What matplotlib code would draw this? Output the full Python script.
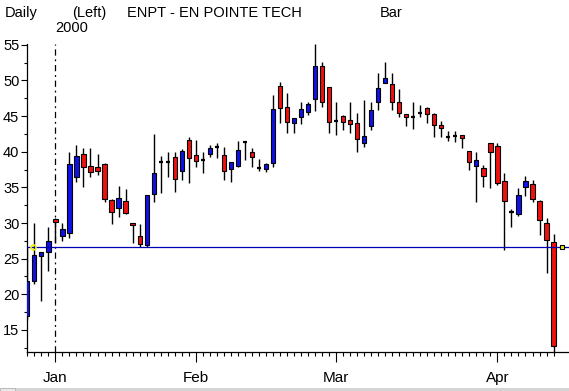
import matplotlib
matplotlib.use("Agg")
import matplotlib.pyplot as plt
import numpy as np
import pandas as pd
from matplotlib.patches import Rectangle

# trading days shown (Dec 28 1999 .. Apr 13 2000, MLK and Presidents Day closed)
dates = pd.bdate_range("1999-12-28", "2000-04-13")
dates = dates.drop(pd.to_datetime(["2000-01-17", "2000-02-21"]))

opens = [17.0, 21.8, 25.4, 26.0, 30.6, 28.2, 28.55, 36.5, 39.65, 38.0,
         37.9, 38.25, 33.25, 32.1, 33.1, 30.0, 28.2, 26.85, 34.05, 38.5,
         38.55, 39.25, 37.35, 41.65, 39.55, 38.85, 39.65, 40.65, 39.55, 37.55,
         38.05, 41.35, 39.95, 37.7, 37.55, 38.4, 49.25, 46.25, 44.0, 44.85,
         45.55, 47.4, 52.05, 49.05, 44.35, 45.05, 44.45, 44.0, 41.2, 43.55,
         47.05, 49.7, 49.5, 46.95, 45.25, 44.85, 45.5, 46.1, 45.25, 43.75,
         42.05, 42.2, 42.35, 40.1, 38.05, 37.7, 41.2, 40.8, 35.95, 31.6,
         31.25, 35.0, 35.5, 33.15, 30.0, 27.3]
highs = [26.5, 30.0, 26.0, 29.5, 30.7, 30.0, 39.9, 41.0, 40.5, 40.5,
         39.7, 38.4, 33.3, 35.2, 34.75, 30.0, 29.85, 33.95, 42.5, 39.4,
         39.9, 40.0, 40.4, 42.1, 41.7, 39.9, 41.0, 41.2, 40.65, 38.6,
         41.5, 41.5, 40.5, 38.95, 38.45, 48.0, 49.85, 48.2, 44.75, 47.05,
         47.05, 55.1, 52.65, 49.1, 47.05, 45.1, 47.05, 45.5, 47.3, 47.05,
         51.1, 52.65, 51.1, 48.8, 45.3, 46.95, 46.55, 46.3, 45.5, 44.35,
         42.95, 42.95, 42.4, 40.15, 39.95, 38.15, 41.25, 41.2, 37.0, 32.0,
         34.9, 36.6, 36.05, 33.2, 30.7, 28.45]
lows = [16.4, 21.5, 19.1, 23.2, 27.2, 27.5, 27.9, 35.7, 35.1, 36.4,
        36.75, 32.9, 29.85, 30.9, 31.3, 27.2, 26.7, 26.7, 32.9, 34.2,
        36.5, 34.4, 36.05, 35.6, 37.9, 37.0, 39.2, 39.1, 36.05, 35.8,
        37.9, 38.85, 37.9, 37.35, 37.2, 37.8, 44.1, 42.7, 42.6, 43.9,
        45.2, 45.65, 46.25, 42.6, 42.4, 43.05, 42.6, 39.9, 40.7, 43.05,
        45.9, 49.65, 45.9, 44.85, 43.55, 43.15, 44.85, 44.0, 42.05, 42.05,
        41.45, 41.4, 40.5, 37.45, 32.9, 35.0, 34.9, 35.35, 26.2, 29.4,
        31.0, 33.85, 32.9, 28.35, 22.95, 11.95]
closes = [21.8, 25.5, 25.9, 27.5, 30.1, 29.2, 38.25, 39.4, 37.8, 37.1,
          37.35, 33.35, 31.5, 33.5, 31.4, 29.7, 27.1, 33.9, 37.0, 38.5,
          38.55, 36.15, 40.15, 39.1, 38.75, 38.85, 40.5, 40.65, 37.35, 38.55,
          40.25, 41.35, 39.3, 37.7, 38.25, 46.0, 46.1, 44.15, 44.7, 46.0,
          46.65, 52.05, 47.05, 44.15, 44.35, 44.15, 43.85, 41.75, 42.15, 45.9,
          48.9, 50.3, 47.05, 45.4, 44.85, 44.85, 45.5, 45.35, 43.7, 43.4,
          42.05, 42.2, 41.9, 38.6, 38.85, 36.65, 40.0, 35.6, 33.1, 31.6,
          33.9, 35.95, 33.35, 30.4, 27.6, 12.8]
ref_level = 26.65

UP = "#1010e8"
DOWN = "#f01010"
FONT = "Liberation Sans"

fig = plt.figure(figsize=(5.69, 3.91), dpi=100)
ax = fig.add_axes([27 / 569, 39 / 391, 542 / 569, 307.5 / 391])

x = np.arange(len(dates))
o = np.array(opens)
c = np.array(closes)
colors = [UP if cc > oo else (DOWN if cc < oo else "black") for oo, cc in zip(o, c)]
lws = [0.8 if cc != oo else 1.6 for oo, cc in zip(o, c)]

ax.vlines(x, lows, highs, color="black", lw=1.0, zorder=2)
ax.bar(x, np.abs(c - o), bottom=np.minimum(o, c), width=0.6,
       color=colors, edgecolor="black", linewidth=lws, zorder=3)

ax.axhline(ref_level, color="#0000b4", lw=0.9, zorder=4)
ax.plot([0.85], [ref_level], marker="o", ms=3.5, mfc="none", mec="#f0f000", mew=1.2, zorder=5)
ax.plot([len(dates) + 0.2], [ref_level], marker="s", ms=3.5, mfc="#f0f000",
        mec="black", mew=0.8, zorder=5, clip_on=False)

# month ticks at first trading day of each month
month_first = [i for i in range(1, len(dates)) if dates[i].month != dates[i - 1].month]
month_names = [dates[i].strftime("%b") for i in month_first]
ax.axvline(month_first[0], color="black", lw=0.9, dashes=(5, 3, 1.5, 3), zorder=1)

ax.set_xlim(-0.05, len(dates) + 1.2)
ax.set_ylim(11.9, 55.05)
ax.set_xticks(month_first)
ax.set_xticklabels(month_names, fontsize=11, family=FONT)
ax.set_xticks(x, minor=True)
ax.set_yticks([15, 20, 25, 30, 35, 40, 45, 50, 55])
ax.set_yticks(np.arange(12.5, 55, 2.5), minor=True)
for t in ax.get_yticklabels():
    t.set_fontsize(10.5)
    t.set_family(FONT)
ax.tick_params(axis="x", which="major", length=7.5, width=0.8, pad=6)
ax.tick_params(axis="x", which="minor", length=3.2, width=0.8)
ax.tick_params(axis="y", which="major", length=4, width=0.8, pad=1.5)
ax.tick_params(axis="y", which="minor", length=2, width=0.8)
for side in ["top", "right"]:
    ax.spines[side].set_visible(False)
for side in ["left", "bottom"]:
    ax.spines[side].set_linewidth(0.9)

# header texts
hdr = dict(fontsize=10.5, family=FONT, va="baseline")
fig.text(5 / 569, 1 - 17 / 391, "Daily", **hdr)
fig.text(72 / 569, 1 - 17 / 391, "(Left)", **hdr)
fig.text(127 / 569, 1 - 17 / 391, "ENPT - EN POINTE TECH", **hdr)
fig.text(380 / 569, 1 - 17 / 391, "Bar", **hdr)
fig.text(55 / 569, 1 - 32 / 391, "2000", **hdr)

# grey strip at the bottom
fig.patches.append(Rectangle((15 / 569, 0), 554 / 569, 3 / 391, transform=fig.transFigure,
                             facecolor="#d4d4d4", edgecolor="none"))
fig.patches.append(Rectangle((0, 0), 15 / 569, 3 / 391, transform=fig.transFigure,
                             facecolor="#e8e8e8", edgecolor="#b0b0b0", lw=0.6))

fig.savefig("out.png", dpi=100)
